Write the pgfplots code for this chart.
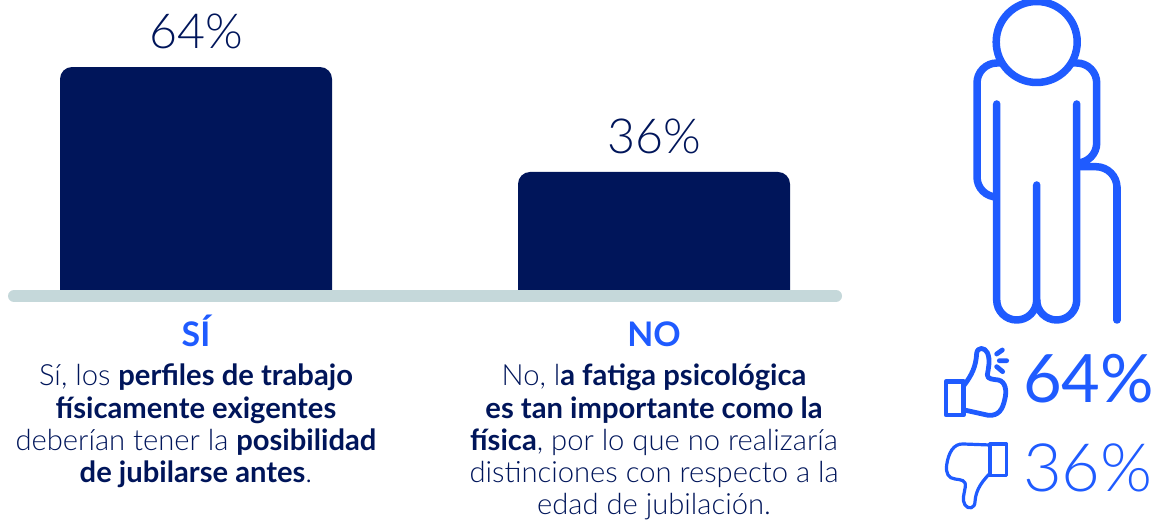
\documentclass[border=0pt]{standalone}
\usepackage{pgfplots}
\pgfplotsset{compat=1.18}
\usepackage{fontspec}
\setmainfont{Lato}
\newfontfamily\lt{Lato Light}
\newfontfamily\bd{Lato Bold}
\definecolor{navy}{HTML}{00155A}
\definecolor{blu}{HTML}{1F5BFF}
\definecolor{basec}{HTML}{C5D8DA}
\newcommand{\tl}[3]{\node[anchor=base,text=navy,inner sep=0pt,font=\fontsize{29.3}{32}\selectfont] at (#1,-#2) {#3};}
\begin{document}
\begin{tikzpicture}[x=1bp,y=1bp]
\path[use as bounding box] (0,0) rectangle (1153,-520);
\coordinate (o) at (0,-302);
\begin{axis}[
  at={(o)},anchor=south west,
  scale only axis,width=842bp,height=302bp,
  xmin=-0.428,xmax=1.4105,ymin=1.33,ymax=81.87,
  clip mode=individual,
  axis line style={draw=none},
  ytick=\empty,xtick=data,xticklabels={SÍ,NO},
  major tick length=0pt,
  xticklabel style={text=blu,font=\bd\fontsize{34}{36}\selectfont,anchor=base,yshift=-44bp},
  ybar,bar width=272bp,
  nodes near coords={\pgfmathprintnumber[assume math mode=true]{\pgfplotspointmeta}\%},
  every node near coord/.append style={text=navy,font=\lt\fontsize{48.5}{50}\selectfont,yshift=15bp},
]
\addplot[fill=navy,draw=none,rounded corners=12bp,bar shift=0pt] coordinates {(0,64) (1,36)};
\end{axis}
\draw[basec,line width=12bp,line cap=round] (14,-296) -- (836,-296);
\tl{196}{386}{\lt Sí, los \bd perfiles de trabajo}
\tl{196}{418}{\bd físicamente exigentes}
\tl{196}{450}{\lt deberían tener la \bd posibilidad}
\tl{196}{482}{\bd de jubilarse antes\lt .}
\tl{654}{386}{\lt No, l\bd a fatiga psicológica}
\tl{654}{418}{\bd es tan importante como la}
\tl{654}{450}{\bd física\lt , por lo que no realizaría}
\tl{654}{482}{\lt distinciones con respecto a la}
\tl{654}{514}{\lt edad de jubilación.}
% person
\begin{scope}[draw=blu,line width=7.5bp,line cap=round,line join=round]
\draw (1036.7,-42) circle (40.5);
\draw (996.7,-104) -- (996.7,-300) arc[start angle=180,end angle=360,radius=20] -- (1036.7,-185);
\draw (1036.7,-300) arc[start angle=180,end angle=360,radius=20] -- (1076.7,-104);
\draw[line cap=butt] (1000,-63) -- (997,-63) arc[start angle=90,end angle=180,radius=20] -- (977,-177) arc[start angle=180,end angle=270,radius=20];
\draw[line cap=butt] (1073,-63) -- (1076.7,-63) arc[start angle=90,end angle=0,radius=20] -- (1096.7,-143) arc[start angle=0,end angle=-90,radius=20];
\draw[line cap=butt] (1076.7,-166.7) -- (1096,-166.7) arc[start angle=90,end angle=0,radius=21];
\draw (1117,-187.7) -- (1117,-320);
\end{scope}
% thumbs
\begin{scope}[shift={(930,-330)},x=0.33333bp,y=-0.33333bp,draw=blu,line cap=round,line join=round]
\draw[line width=4.8bp] (48,155) rectangle (100,255);
\draw[line width=4.8bp] (103,165) .. controls (125,135) and (138,110) .. (140,70) .. controls (142,50) and (165,52) .. (172,68) .. controls (182,90) and (175,115) .. (172,135) .. controls (172,148) and (190,148) .. (205,150) .. controls (228,155) and (230,185) .. (225,205) .. controls (218,240) and (205,258) .. (175,256) -- (103,240);
\draw[line width=4.8bp] (200,72) -- (217,60) (208,92) -- (230,92) (200,110) -- (218,125);
\draw[line width=3.2bp] (180,342) rectangle (230,437);
\draw[line width=3.2bp] (180,345) -- (100,342) .. controls (70,340) and (55,370) .. (50,405) .. controls (47,430) and (55,445) .. (75,447) .. controls (95,450) and (108,450) .. (106,470) .. controls (103,490) and (95,510) .. (105,525) .. controls (115,540) and (135,535) .. (135,515) .. controls (137,490) and (145,465) .. (180,430);
\end{scope}
\node[anchor=base west,inner sep=0pt,text=blu,font=\fontsize{67}{68}\selectfont] at (1023,-402) {64\%};
\node[anchor=base west,inner sep=0pt,text=blu,font=\lt\fontsize{67}{68}\selectfont] at (1023,-491) {36\%};
\end{tikzpicture}
\end{document}
